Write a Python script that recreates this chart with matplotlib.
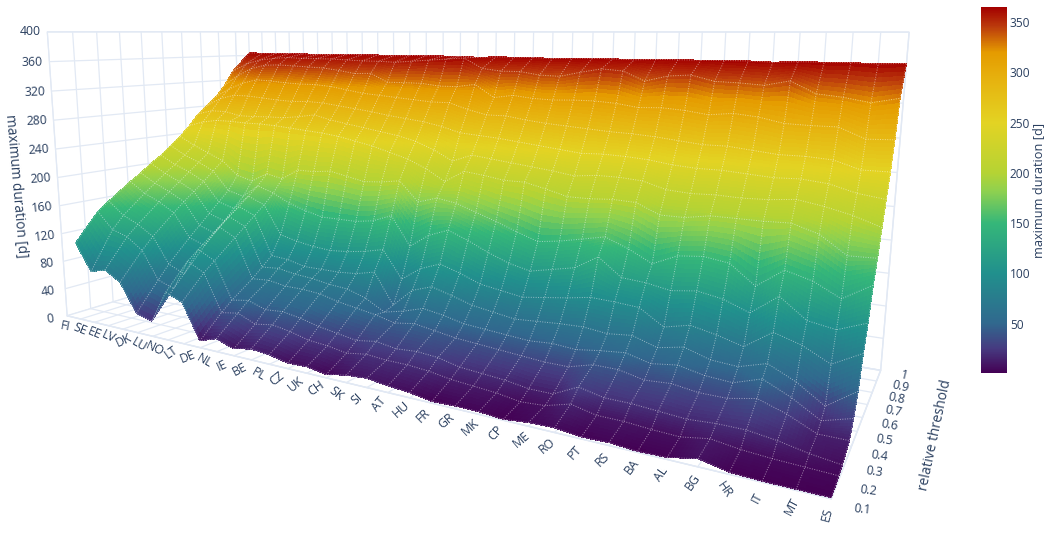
import numpy as np
import matplotlib
matplotlib.use('Agg')
import matplotlib.pyplot as plt
from matplotlib.colors import LinearSegmentedColormap, Normalize
from matplotlib.cm import ScalarMappable
from matplotlib.ticker import NullFormatter
from mpl_toolkits.mplot3d import proj3d

countries = ['FI','SE','EE','LV','DK','LU','NO','LT','DE','NL','IE','BE','PL','CZ','UK','CH','SK','SI',
             'AT','HU','FR','GR','MK','CP','ME','RO','PT','RS','BA','AL','BG','HR','IT','MT','ES']
thresholds = [0.1,0.2,0.25,0.35,0.4,0.45,0.5,0.55,0.6,0.65,0.7,0.75,0.8,0.85,0.9,1.0]
threshold_ticks = [0.1,0.2,0.3,0.4,0.5,0.6,0.7,0.8,0.9,1.0]
threshold_labels = ['0.1','0.2','0.3','0.4','0.5','0.6','0.7','0.8','0.9','1']
duration_ticks = list(range(0,401,40))

r10 = [110,73,79,66,27,21,65,56,9,17,9,14,12,7,8,4,9,11,8,6,2,3,3,1,4,5,2,3,1,2,8,2,1,1,1]
r20 = [148,125,118,102,64,56,98,86,36,40,30,34,30,24,22,18,22,20,20,18,14,12,10,6,8,16,10,10,8,7,12,8,6,5,4]
r25 = [160,142,132,118,82,72,110,98,48,52,44,46,42,36,32,28,32,28,30,28,22,20,18,14,14,28,22,22,20,18,20,20,16,10,6]
r35 = [183,168,158,145,112,104,134,122,68,70,66,66,64,58,54,50,44,48,44,40,38,36,34,32,32,40,40,34,36,32,32,38,28,14,14]
r40 = [193,180,170,158,126,118,145,134,80,82,78,76,72,70,62,48,54,62,58,52,50,48,46,48,46,50,53,46,50,44,42,52,38,20,29]
r45 = [205,192,182,170,140,132,156,146,92,90,84,84,84,86,92,52,76,85,78,70,66,62,64,66,67,64,67,58,64,55,53,62,48,28,50]
r50 = [215,203,194,182,154,147,168,158,118,112,108,106,108,112,118,82,100,110,102,92,88,84,88,92,97,96,94,76,83,77,69,90,81,66,83]
r55 = [228,215,206,195,168,162,180,172,160,152,146,146,146,150,160,122,140,150,140,128,118,112,118,124,141,120,118,113,117,112,101,124,102,97,109]
r60 = [240,228,218,208,188,182,195,190,205,205,208,203,198,200,204,178,186,182,173,164,154,145,149,155,161,150,136,149,152,148,126,148,140,125,144]
r65 = [255,262,266,266,265,265,264,262,260,258,255,250,245,238,231,220,205,221,218,214,214,208,201,201,203,202,190,190,195,195,195,196,187,167,168]
r70 = [272,278,278,273,273,274,274,277,281,275,271,267,263,259,253,243,230,240,237,234,231,228,224,227,227,225,217,215,216,215,216,219,214,207,197]
r75 = [284,296,302,302,300,298,297,298,297,294,291,288,284,281,278,273,266,264,262,259,256,253,250,251,250,248,244,242,242,240,238,239,236,228,224]
r80 = [297,310,320,326,325,323,322,322,320,316,312,310,308,306,304,304,296,290,290,286,283,281,279,277,276,274,271,268,268,265,262,262,260,251,251]
r85 = [314,330,342,348,349,348,347,346,343,339,340,328,328,328,325,325,329,312,316,313,312,313,313,311,307,308,306,302,305,302,296,295,295,283,284]
r90 = [336,348,355,358,360,359,359,359,358,357,357,356,358,360,362,364,350,347,347,343,342,348,353,351,339,346,348,341,340,338,344,330,327,322,328]
r100 = [365,365,365,365,365,364,365,365,365,365,364,365,365,365,365,364,365,365,365,364,365,365,365,364,365,365,365,365,365,364,365,365,365,364,365]

duration = np.array([r10,r20,r25,r35,r40,r45,r50,r55,r60,r65,r70,r75,r80,r85,r90,r100],float).T

x_rot = [-10,-22,-22,-25,25,-30,-25,35,22,-30,25,28,-30,38,40,35,-38,42,50,42,45,40,42,48,40,40,48,45,52,55,55,-55,62,62,75]

color_stops = [(1,'#440154'),(25,'#463a80'),(50,'#31688e'),(100,'#21908d'),(150,'#35b779'),(182,'#8fd14f'),
               (200,'#b5d334'),(250,'#e3d323'),(292,'#e6b30f'),(320,'#e59b00'),(346,'#bb3a0c'),(365,'#a30000')]
norm = Normalize(1,365)
cmap = LinearSegmentedColormap.from_list('dur',[(norm(v),c) for v,c in color_stops],N=512)

TEXT='#2a3f5f'; GRID='#e2e9f4'
W,H=1053,536
plt.rcParams['font.family']=['Open Sans','DejaVu Sans']
fig=plt.figure(figsize=(W/100,H/100),dpi=100)
ax=fig.add_subplot(projection='3d')
ax.set_xlim(-1,34);ax.set_ylim(0.1,1);ax.set_zlim(0,400)
ax.view_init(elev=9.732,azim=-58.79)
ax.set_proj_type('persp',focal_length=0.1966)
ax.set_box_aspect((2.5503,0.9099,1))
S,TX,TY=4740.42,438.35,190.72
side=S*0.185
ax.set_position([(TX-0.095*S)/W,(H-(TY+0.095*S))/H,side/W,side/H])
ax.patch.set_alpha(0)

# surface: each source cell is subdivided only for smooth shading
n=8
nr=len(thresholds)
xf=np.linspace(0,34,34*n+1)
yf=np.interp(np.linspace(0,nr-1,(nr-1)*n+1),np.arange(nr),thresholds)
tmp=np.array([np.interp(yf,thresholds,duration[i]) for i in range(35)])
zf=np.empty((xf.size,yf.size))
for j in range(yf.size):
    zf[:,j]=np.interp(xf,np.arange(35),tmp[:,j])
Xf,Yf=np.meshgrid(xf,yf,indexing='ij')
ax.computed_zorder=False
fc=cmap(norm((zf[:-1,:-1]+zf[1:,1:]+zf[1:,:-1]+zf[:-1,1:])/4))
surf=ax.plot_surface(Xf,Yf,zf,facecolors=fc,rstride=1,cstride=1,shade=False,linewidth=0.3,antialiased=False,zorder=2,edgecolor='none')
surf.set_clip_on(False)

x=np.arange(35)
for j,t in enumerate(thresholds):
    ax.plot(x,np.full(35,t),duration[:,j],color='white',alpha=.5,lw=.7,ls=(0,(1,1.5)),zorder=3,clip_on=False)
for i in range(35):
    ax.plot(np.full(nr,i),thresholds,duration[i],color='white',alpha=.5,lw=.7,ls=(0,(1,1.5)),zorder=3,clip_on=False)

ax.set_xticks(x);ax.set_yticks(threshold_ticks);ax.set_zticks(duration_ticks)
for axis in (ax.xaxis,ax.yaxis,ax.zaxis):
    axis.set_pane_color((1,1,1,1))
    axis.pane.set_edgecolor(GRID)
    axis.line.set_color(GRID)
    axis._axinfo['grid'].update(color=GRID,linewidth=.9)
    axis.set_major_formatter(NullFormatter())
ax.tick_params(axis='both',length=0,color=(1,1,1,0))
ax.tick_params(axis='z',length=0,color=(1,1,1,0))
ax.zaxis.set_ticks_position('lower')

M=ax.get_proj()
def label(px,py,pz,s,dx,dy,rot):
    a,b,_=proj3d.proj_transform(px,py,pz,M)
    ax.annotate(s,(a,b),xytext=(dx,dy),textcoords='offset pixels',rotation=rot,rotation_mode='anchor',
                ha='center',va='center',fontsize=8.8,color=TEXT,annotation_clip=False)
for i,c in enumerate(countries):
    label(i,0.1,0,c,-15+11*i/34,-(7+9*i/34),x_rot[i])
for v,s in zip(threshold_ticks,threshold_labels):
    f=(v-.1)/.9
    label(34,v,0,s,31-8*f,-(11-6*f),-6-8*f)
for z in duration_ticks:
    label(-1,.1,z,str(z),-17,-3+3*z/400,10-10*z/400)

fig.text(16/W,1-186/H,'maximum duration [d]',rotation=-85,color=TEXT,fontsize=9.8,ha='center',va='center')
fig.text(935/W,1-435/H,'relative threshold',rotation=78,color=TEXT,fontsize=9.9,ha='center',va='center')

cax=fig.add_axes([981/W,1-373/H,26/W,366/H])
sm=ScalarMappable(norm=norm,cmap=cmap)
cb=fig.colorbar(sm,cax=cax,ticks=[50,100,150,200,250,300,350])
cb.outline.set_visible(False)
cb.ax.tick_params(length=0,labelsize=8.6,labelcolor=TEXT,pad=2)
fig.text(1039/W,1-190/H,'maximum duration [d]',rotation=90,color=TEXT,fontsize=9.2,ha='center',va='center')
fig.savefig('out.png',dpi=100)
